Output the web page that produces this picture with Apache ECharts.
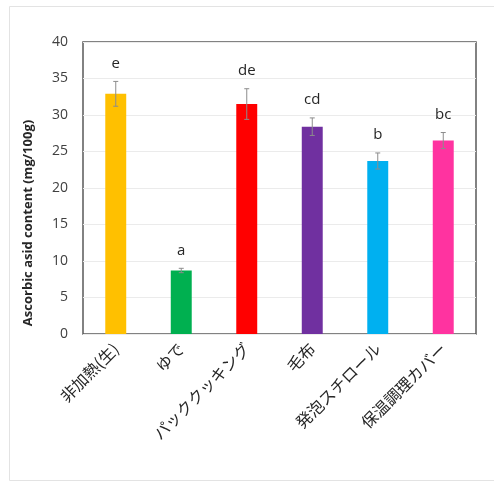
<!DOCTYPE html>
<html>
<head>
<meta charset="utf-8">
<script src="https://cdn.jsdelivr.net/npm/echarts@6/dist/echarts.min.js"></script>
<style>
  html, body { margin: 0; padding: 0; background: #fff; }
  #chart { width: 494px; height: 482px; }
</style>
</head>
<body>
<div id="chart"></div>
<script>
// Ascorbic acid content by cooking / keeping-warm method
const categories = ['非加熱(生)', 'ゆで', 'パッククッキング', '毛布', '発泡スチロール', '保温調理カバー'];
const means = [32.9, 8.7, 31.5, 28.4, 23.7, 26.5];
const errors = [1.7, 0.3, 2.1, 1.2, 1.1, 1.1];
const letters = ['e', 'a', 'de', 'cd', 'b', 'bc'];
const colors = ['#FFC000', '#00B050', '#FF0000', '#7030A0', '#00B0F0', '#FF33A0'];
const yTicks = { min: 0, max: 40, step: 5 };
const yTitle = 'Ascorbic asid content (mg/100g)';

const chart = echarts.init(document.getElementById('chart'));

const errData = categories.map((c, i) => [i, means[i], errors[i], letters[i]]);

chart.setOption({
  backgroundColor: '#fff',
  animation: false,
  graphic: [
    {
      type: 'rect',
      shape: { x: 9.5, y: 6.5, width: 500, height: 474 },
      style: { fill: 'none', stroke: '#e3e3e3', lineWidth: 1 },
      silent: true,
      z: -10
    },
    {
      type: 'text',
      x: 28, y: 223,
      rotation: Math.PI / 2,
      style: {
        text: yTitle,
        textAlign: 'center', textVerticalAlign: 'middle',
        fontFamily: '"Open Sans", sans-serif', fontWeight: 'bold', fontSize: 13, fill: '#262626'
      },
      silent: true
    }
  ],
  grid: {
    left: 83, right: 18, top: 42, bottom: 148,
    show: true, borderColor: '#595959', borderWidth: 1.5, backgroundColor: 'transparent'
  },
  xAxis: {
    type: 'category',
    data: categories,
    axisLine: { show: false },
    axisTick: { show: false },
    axisLabel: {
      rotate: 45, interval: 0, margin: 12,
      fontFamily: '"Noto Sans CJK JP", sans-serif', fontSize: 16, color: '#262626'
    }
  },
  yAxis: {
    type: 'value',
    min: yTicks.min, max: yTicks.max, interval: yTicks.step,
    axisLine: { show: false },
    axisTick: { show: false },
    axisLabel: { fontFamily: '"Open Sans", sans-serif', fontSize: 14, color: '#404040', margin: 15 },
    splitLine: { lineStyle: { color: '#ebebeb', width: 1 } }
  },
  series: [
    {
      type: 'bar',
      barWidth: '32%',
      data: means.map((v, i) => ({ value: v, itemStyle: { color: colors[i] } })),
      z: 2
    },
    {
      type: 'custom',
      data: errData,
      z: 3,
      renderItem: function (params, api) {
        const x = api.value(0);
        const m = api.value(1);
        const e = api.value(2);
        const top = api.coord([x, m + e]);
        const bot = api.coord([x, m - e]);
        const cap = 2.5;
        return {
          type: 'group',
          children: [
            { type: 'line', shape: { x1: top[0], y1: top[1], x2: bot[0], y2: bot[1] }, style: { stroke: '#8c8c8c', lineWidth: 1 } },
            { type: 'line', shape: { x1: top[0] - cap, y1: top[1], x2: top[0] + cap, y2: top[1] }, style: { stroke: '#8c8c8c', lineWidth: 1 } },
            { type: 'line', shape: { x1: bot[0] - cap, y1: bot[1], x2: bot[0] + cap, y2: bot[1] }, style: { stroke: '#8c8c8c', lineWidth: 1 } },
            {
              type: 'text',
              style: {
                x: top[0], y: top[1] - 18,
                text: api.value(3),
                textAlign: 'center', textVerticalAlign: 'middle',
                fontFamily: '"Open Sans", sans-serif', fontSize: 15, fill: '#262626'
              }
            }
          ]
        };
      }
    }
  ]
});
</script>
</body>
</html>
